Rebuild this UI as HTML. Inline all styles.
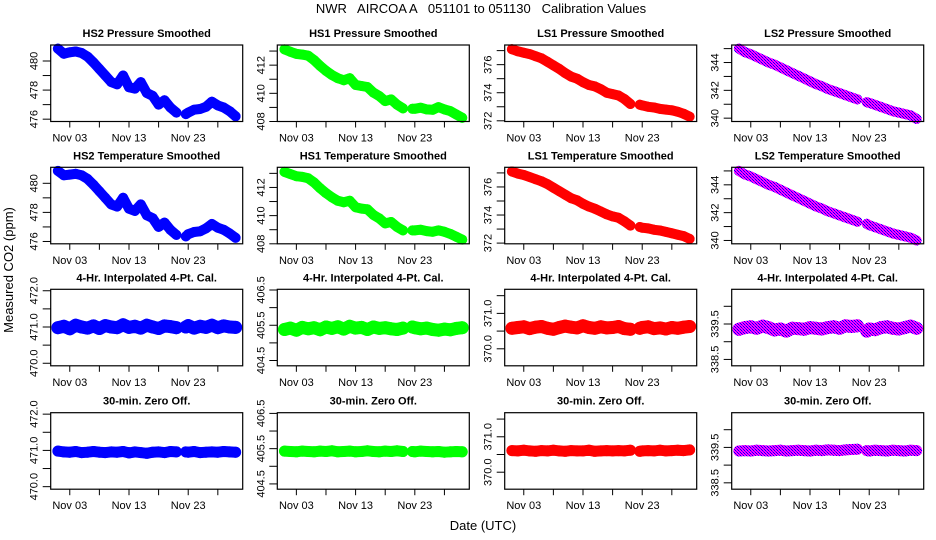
<!DOCTYPE html>
<html><head><meta charset="utf-8"><style>
html,body{margin:0;padding:0;background:#fff;}
svg{display:block;font-family:"Liberation Sans",Arial,sans-serif;}
</style></head><body>
<svg id="chart" width="936" height="540" viewBox="0 0 936 540" xmlns="http://www.w3.org/2000/svg">
<defs>
<pattern id="chk" width="3" height="3" patternUnits="userSpaceOnUse">
<rect width="3" height="3" fill="#ff00ff"/><rect width="1" height="1" fill="#0000ff"/><rect x="1" y="1" width="1" height="1" fill="#6000ff"/><rect x="2" y="2" width="1" height="1" fill="#0000ff"/>
</pattern>
</defs>
<text x="481" y="13" font-size="13" text-anchor="middle" xml:space="preserve">NWR   AIRCOA A   051101 to 051130   Calibration Values</text>
<text transform="translate(13,270) rotate(-90)" font-size="13" text-anchor="middle">Measured CO2 (ppm)</text>
<text x="483" y="530" font-size="13" text-anchor="middle">Date (UTC)</text>
<g id="panels"></g>
</svg>
<script>
const times=[0,1,2,3,4,5,6,7,8,9,10,11,12,13,14,15,16,17,18,19,20,21.6,22,23,24,25,26,27,28,29,30];
const xTickDays=[2,7,12,17,22,27];
const xTickLabels=["Nov 03","","Nov 13","","Nov 23",""];
const hs2Press=[480.85,480.5,480.6,480.65,480.55,480.3,479.9,479.45,479.0,478.55,478.4,479.0,478.2,478.1,478.55,477.8,477.6,477.0,477.3,476.8,476.45,476.35,476.45,476.65,476.7,476.85,477.2,476.95,476.8,476.55,476.2];
const hs1Press=[413.12,412.95,412.8,412.75,412.67,412.36,411.95,411.6,411.3,411.07,410.93,411.07,410.6,410.52,410.45,410.05,409.8,409.45,409.57,409.2,408.93,408.9,408.9,408.98,408.86,408.83,409.02,408.86,408.74,408.5,408.26];
const ls1Press=[377.1,376.95,376.85,376.75,376.6,376.45,376.2,375.95,375.7,375.4,375.15,375.0,374.75,374.55,374.45,374.25,374.0,373.9,373.8,373.55,373.2,373.15,373.1,373.0,372.95,372.85,372.8,372.75,372.65,372.5,372.3];
const ls2Press=[345.0,344.75,344.6,344.4,344.2,344.0,343.85,343.65,343.45,343.25,343.05,342.85,342.65,342.45,342.3,342.1,341.95,341.8,341.65,341.5,341.35,341.15,341.1,340.95,340.8,340.65,340.5,340.4,340.3,340.2,339.95];
const hs2Temp=[480.85,480.55,480.6,480.65,480.55,480.3,479.9,479.45,479.0,478.55,478.4,479.0,478.25,478.1,478.55,477.8,477.6,477.0,477.3,476.8,476.45,476.35,476.5,476.65,476.7,476.9,477.2,476.95,476.8,476.55,476.25];
const hs1Temp=[413.1,412.95,412.8,412.75,412.65,412.35,411.95,411.6,411.3,411.05,410.95,411.05,410.6,410.5,410.45,410.05,409.8,409.45,409.55,409.2,408.95,408.95,408.95,409.0,408.9,408.85,408.95,408.85,408.7,408.5,408.3];
const ls1Temp=[377.1,376.95,376.85,376.7,376.55,376.4,376.2,375.95,375.7,375.45,375.2,375.05,374.8,374.6,374.45,374.25,374.05,373.9,373.8,373.55,373.25,373.15,373.1,373.05,372.95,372.9,372.8,372.7,372.6,372.5,372.3];
const ls2Temp=[345.0,344.75,344.6,344.4,344.2,344.0,343.85,343.65,343.45,343.25,343.05,342.85,342.65,342.45,342.3,342.1,341.95,341.8,341.65,341.5,341.35,341.2,341.1,340.95,340.8,340.65,340.5,340.4,340.3,340.2,340.0];
const hs2Cal=[470.98,471.02,470.95,471.05,471.0,470.97,471.03,470.96,471.04,471.0,470.98,471.06,470.99,471.02,470.97,471.05,471.0,470.96,471.03,471.01,470.98,471.0,471.04,470.97,471.02,470.99,471.05,470.98,471.03,471.0,470.99];
const hs1Cal=[405.38,405.42,405.36,405.44,405.4,405.43,405.37,405.45,405.41,405.46,405.39,405.47,405.42,405.44,405.38,405.45,405.41,405.43,405.4,405.38,405.42,405.45,405.43,405.4,405.42,405.38,405.36,405.39,405.37,405.41,405.43];
const ls1Cal=[370.58,370.6,370.62,370.57,370.61,370.63,370.58,370.55,370.6,370.64,370.61,370.59,370.65,370.6,370.58,370.62,370.59,370.6,370.63,370.57,370.55,370.58,370.6,370.62,370.57,370.59,370.56,370.6,370.58,370.61,370.63];
const ls2Cal=[339.35,339.4,339.42,339.38,339.44,339.4,339.33,339.36,339.3,339.38,339.37,339.35,339.4,339.38,339.36,339.4,339.42,339.38,339.45,339.43,339.45,339.3,339.36,339.34,339.4,339.42,339.38,339.36,339.4,339.44,339.38];
const hs2Zero=[470.98,470.96,470.95,470.97,470.94,470.95,470.97,470.95,470.94,470.96,470.95,470.97,470.93,470.96,470.94,470.92,470.95,470.96,470.94,470.97,470.96,470.96,470.95,470.97,470.94,470.95,470.96,470.95,470.97,470.96,470.95];
const hs1Zero=[405.43,405.42,405.41,405.43,405.42,405.41,405.43,405.42,405.44,405.41,405.42,405.43,405.41,405.42,405.44,405.42,405.41,405.43,405.42,405.44,405.42,405.42,405.41,405.43,405.42,405.41,405.42,405.4,405.41,405.42,405.41];
const ls1Zero=[370.61,370.6,370.62,370.6,370.59,370.61,370.6,370.62,370.6,370.59,370.61,370.6,370.6,370.62,370.59,370.6,370.61,370.6,370.61,370.6,370.62,370.59,370.6,370.61,370.6,370.62,370.6,370.61,370.62,370.61,370.63];
const ls2Zero=[339.4,339.41,339.4,339.42,339.41,339.4,339.41,339.42,339.4,339.41,339.42,339.41,339.4,339.42,339.41,339.43,339.42,339.41,339.43,339.44,339.45,339.41,339.4,339.42,339.41,339.4,339.42,339.41,339.4,339.42,339.41];

const colLefts=[50.7,277.3,504.7,731.7];
const rowTops=[45,167.3,289.3,412.7];
const PW=192, PH=76.5;
const colors=["#0000ff","#00ff00","#ff0000","url(#chk)"];
const titles=[["HS2 Pressure Smoothed","HS1 Pressure Smoothed","LS1 Pressure Smoothed","LS2 Pressure Smoothed"],
["HS2 Temperature Smoothed","HS1 Temperature Smoothed","LS1 Temperature Smoothed","LS2 Temperature Smoothed"],
["4-Hr. Interpolated 4-Pt. Cal.","4-Hr. Interpolated 4-Pt. Cal.","4-Hr. Interpolated 4-Pt. Cal.","4-Hr. Interpolated 4-Pt. Cal."],
["30-min. Zero Off.","30-min. Zero Off.","30-min. Zero Off.","30-min. Zero Off."]];
const series=[[hs2Press,hs1Press,ls1Press,ls2Press],[hs2Temp,hs1Temp,ls1Temp,ls2Temp],[hs2Cal,hs1Cal,ls1Cal,ls2Cal],[hs2Zero,hs1Zero,ls1Zero,ls2Zero]];
const yRangesTop=[[475.84,481.1],[408.0,413.43],[371.95,377.4],[339.76,345.26]];
const yRangesBot=[[469.93,472.04],[404.35,406.52],[369.52,371.68],[338.32,340.48]];
const yTicksTop=[[476,477,478,479,480],[408,409,410,411,412,413],[372,373,374,375,376,377],[340,341,342,343,344,345]];
const yLabelsTop=[[476,478,480],[408,410,412],[372,374,376],[340,342,344]];
const yTicksBot=[[470,470.5,471,471.5,472],[404.5,405,405.5,406,406.5],[370,370.5,371,371.5],[338.5,339,339.5,340]];
const yLabelsBot=[["470.0","471.0","472.0"],["404.5","405.5","406.5"],["370.0","371.0"],["338.5","339.5"]];

const NS="http://www.w3.org/2000/svg";
const root=document.getElementById('panels');
function mk(tag,attrs,parent){const e=document.createElementNS(NS,tag);for(const k in attrs)e.setAttribute(k,attrs[k]);parent.appendChild(e);return e;}
const T0=-1.22,T1=31.2;
for(let r=0;r<4;r++){for(let c=0;c<4;c++){
  const L=colLefts[c],Tp=rowTops[r];
  const g=mk('g',{},root);
  
  
  const rng=r<2?yRangesTop[c]:yRangesBot[c];
  const xs=t=>L+(t-T0)/(T1-T0)*PW;
  const ys=v=>Tp+PH-(v-rng[0])/(rng[1]-rng[0])*PH;
  const tt=mk('text',{x:L+PW/2,y:Tp-8,'font-size':11,'font-weight':'bold','text-anchor':'middle'},g);
  tt.textContent=titles[r][c];
  
  
  const vals=series[r][c];
  const sw=r<2?10:(r==2?13:11);
  let segs=[[]];
  for(let i=0;i<times.length;i++){
    if(i>0&&times[i]-times[i-1]>1.2)segs.push([]);
    segs[segs.length-1].push([xs(times[i]),ys(vals[i])]);
  }
  segs.forEach(s=>{
    const p=mk('polyline',{points:s.map(q=>q[0].toFixed(1)+','+q[1].toFixed(1)).join(' '),fill:'none',stroke:colors[c],'stroke-width':sw,'stroke-linecap':'round','stroke-linejoin':'round'},g);
    
    
  });
  for(let i=0;i<times.length;i++){
    const pt=mk('circle',{cx:xs(times[i]).toFixed(1),cy:ys(vals[i]).toFixed(1),r:sw/2,fill:colors[c]},g);
    
    
  }
  const bx=mk('rect',{x:L,y:Tp,width:PW,height:PH,fill:'none',stroke:'#000','stroke-width':1.2},g);
  
  
  xTickDays.forEach((d,i)=>{
    const x=xs(d);
    const tk=mk('line',{x1:x,x2:x,y1:Tp+PH,y2:Tp+PH+6,stroke:'#000','stroke-width':1},g);
    
    
    if(xTickLabels[i]){
      const lb=mk('text',{x:x,y:Tp+PH+20,'font-size':11,'text-anchor':'middle'},g);
      lb.textContent=xTickLabels[i];
      
      
    }
  });
  const yt=r<2?yTicksTop[c]:yTicksBot[c];
  const yl=r<2?yLabelsTop[c]:yLabelsBot[c];
  yt.forEach(v=>{
    const y=ys(v);
    const tk=mk('line',{x1:L-8,x2:L,y1:y,y2:y,stroke:'#000','stroke-width':1},g);
    
    
  });
  yl.forEach(v=>{
    const y=ys(parseFloat(v));
    const lb=mk('text',{transform:'translate('+(L-13)+','+y+') rotate(-90)','font-size':11,'text-anchor':'middle'},g);
    lb.textContent=String(v);
    
    
  });
}}
</script>
</body></html>
